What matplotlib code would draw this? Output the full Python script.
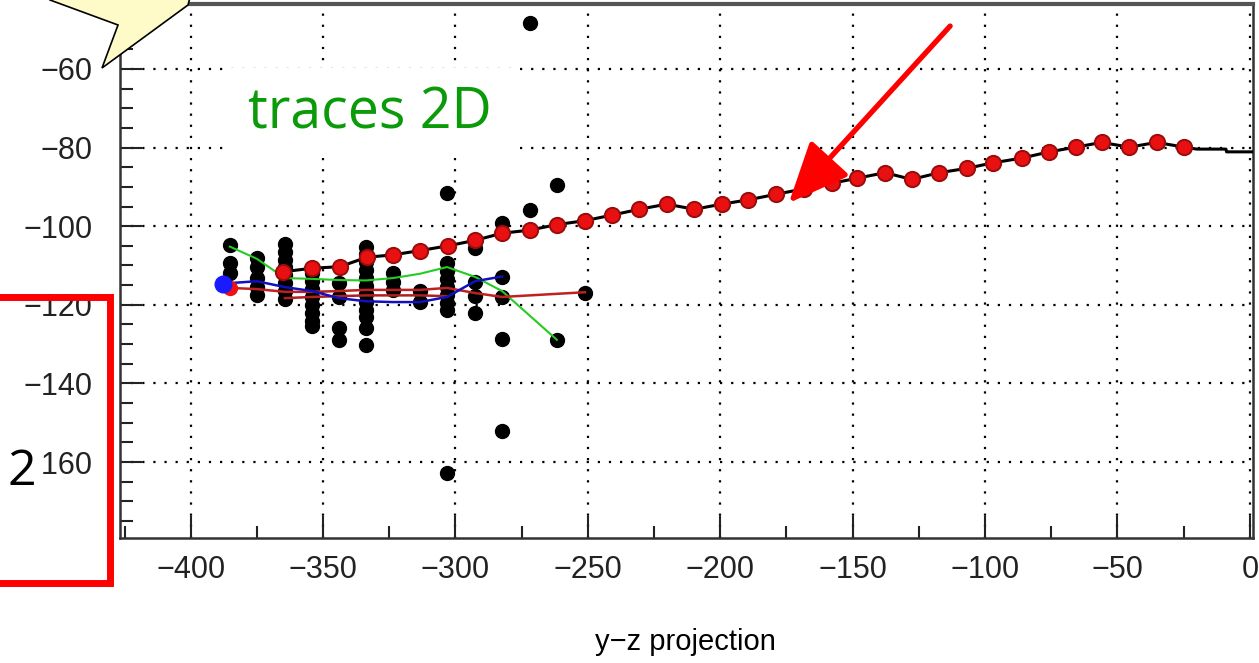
import matplotlib
matplotlib.use('Agg')
import matplotlib.pyplot as plt
from matplotlib.patches import Polygon, Rectangle
from matplotlib.ticker import MultipleLocator

plt.rcParams['font.family'] = ['Liberation Sans Narrow', 'Liberation Sans', 'DejaVu Sans']

# couches (colonnes de hits) et hits noirs
hit_cols = [-385.2, -375.0, -364.4, -354.2, -344.0, -333.8, -323.6,
            -313.4, -303.2, -292.6, -282.4, -271.9, -261.7, -251.1]
hit_ys = [
    [-104.8, -109.4, -112.0],
    [-108.2, -110.3, -113.2, -115.5, -117.5],
    [-104.5, -106.5, -108.5, -110.5, -112.5, -114.5, -116.5, -118.5],
    [-112.0, -114.0, -116.0, -118.0, -120.0, -122.0, -124.0, -125.5],
    [-114.5, -117.9, -125.9, -128.9],
    [-105.2, -107.2, -109.2, -111.2, -113.2, -115.2, -117.2, -119.2, -121.2, -123.2, -125.9, -130.2],
    [-112.0, -114.1, -116.2],
    [-116.6, -119.2],
    [-91.6, -109.4, -111.5, -113.5, -115.5, -117.5, -119.5, -121.3, -162.8],
    [-105.6, -114.1, -117.7, -122.1],
    [-99.3, -112.8, -117.9, -128.7, -152.2],
    [-48.4, -95.9],
    [-89.5, -128.9],
    [-116.9],
]

# trace principale (points rouges + ajustement noir)
track_x = [-365.1, -354.3, -343.6, -333.5, -323.6, -313.4, -302.8, -292.6, -282.4, -271.9,
           -261.7, -251.1, -241.0, -230.6, -220.2, -209.8, -199.5, -189.4, -179.0, -168.4,
           -157.9, -148.3, -137.8, -127.7, -117.3, -106.9, -97.1, -86.2, -75.8, -65.7,
           -56.0, -45.5, -35.2, -24.8]
track_y = [-111.6, -110.7, -110.3, -107.9, -107.3, -106.2, -105.0, -103.6, -101.8, -101.0,
           -99.6, -98.6, -97.2, -95.7, -94.4, -95.7, -94.4, -93.3, -91.9, -90.5,
           -89.1, -87.8, -86.4, -88.1, -86.4, -85.3, -83.9, -82.7, -81.1, -79.9,
           -78.7, -79.9, -78.7, -79.9]
fit_tail_x = [-20.0, -9.0, -8.8, 1.2]
fit_tail_y = [-80.4, -80.4, -81.1, -81.1]

# autres traces
green_x = [-385.2, -375.0, -364.4, -354.2, -344.0, -333.8, -323.6, -313.4, -303.2, -292.6, -282.4, -261.7]
green_y = [-105.2, -108.3, -113.2, -113.4, -113.7, -113.8, -113.2, -112.1, -110.4, -112.9, -116.5, -128.9]
blue_x = [-387.7, -375.0, -364.4, -354.2, -344.0, -333.8, -323.6, -313.4, -303.2, -292.6, -282.4]
blue_y = [-114.6, -114.0, -115.5, -116.5, -118.3, -119.1, -119.3, -119.3, -118.0, -114.0, -112.8]
redA_x = [-385.2, -375.0, -364.4, -354.2, -344.0, -333.8, -323.6, -313.4, -303.2, -292.6, -282.4, -251.1]
redA_y = [-115.7, -116.0, -116.7, -116.7, -116.5, -116.2, -116.2, -116.2, -115.7, -117.0, -118.0, -116.8]
redB_x = [-364.4, -354.2, -344.0, -333.8, -323.6, -313.4, -303.2]
redB_y = [-118.3, -118.0, -117.8, -117.6, -117.6, -117.6, -117.8]

W, H = 1259, 663


def px(x, y):
    # pixels image (origine en haut a gauche) -> fraction de figure
    return (x / W, 1 - y / H)


fig = plt.figure(figsize=(12.59, 6.63), dpi=100)
ax = fig.add_axes([120 / W, 1 - 538 / H, 1133 / W, 534 / H])

hx, hy = [], []
for c, ys in zip(hit_cols, hit_ys):
    for v in ys:
        hx.append(c)
        hy.append(v)
ax.plot(hx, hy, 'o', color='black', ms=10, zorder=3)

ax.plot(green_x, green_y, color='#22cc22', lw=1.5, zorder=4)
ax.plot(redB_x, redB_y, color='#b02020', lw=1.8, zorder=4)
ax.plot(redA_x, redA_y, color='#c02020', lw=1.8, zorder=4)
ax.plot(blue_x, blue_y, color='#1010c0', lw=1.8, zorder=4)
ax.plot(redA_x[:1], redA_y[:1], 'o', color='#ee1111', ms=10, zorder=5)
ax.plot(blue_x[:1], blue_y[:1], 'o', color='#1a1aff', ms=12, zorder=5)

ax.plot(track_x + fit_tail_x, track_y + fit_tail_y, color='black', lw=2.2, zorder=5)
ax.plot(track_x, track_y, 'o', color='#e81010', mec='#9a0c0c', mew=1.4, ms=11, zorder=6)

ax.set_xlim(-426.7, 1.2)
ax.set_ylim(-179.3, -43.5)
ax.xaxis.set_major_locator(MultipleLocator(50))
ax.xaxis.set_minor_locator(MultipleLocator(25))
ax.yaxis.set_major_locator(MultipleLocator(20))
ax.yaxis.set_minor_locator(MultipleLocator(5))
ax.tick_params(which='both', direction='in', top=False, right=False, width=1.5, colors='#222222')
ax.tick_params(which='major', length=16, labelsize=22)
ax.tick_params(which='minor', length=9)
ax.tick_params(axis='y', pad=20)
ax.tick_params(axis='x', pad=12)
for s in ax.spines.values():
    s.set_linewidth(1.8)
    s.set_color('#333333')
ax.spines['top'].set_linewidth(3)
ax.spines['top'].set_color('#555555')
ax.grid(True, which='major', color='black', lw=1.6, linestyle=(0, (1, 4)))
ax.set_axisbelow(True)

fig.text(685 / W, 1 - 642 / H, 'y\u2212z projection', ha='center', va='center', fontsize=21)

# encadre blanc du texte "traces 2D"
fig.patches.append(Rectangle(px(225, 152), 290 / W, 84 / H, transform=fig.transFigure,
                             facecolor='white', edgecolor='none', zorder=10))
fig.text(370 / W, 1 - 114 / H, 'traces 2D', color='#0a9a0a', fontsize=40,
         family=['Open Sans', 'DejaVu Sans'], ha='center', va='center', zorder=11)

# bulle jaune
bulle = [px(40, -10), px(50, 0), px(118, 25), px(102, 68), px(188, 5), px(192, -10)]
fig.patches.append(Polygon(bulle, closed=True, transform=fig.transFigure,
                           facecolor='#fffbc8', edgecolor='black', lw=1.2, zorder=12))

# cadre rouge, et le "2" qui masque le signe moins de -160
fig.patches.append(Rectangle(px(-20, 583), 130 / W, 286 / H, transform=fig.transFigure,
                             facecolor='none', edgecolor='#ff0000', lw=5, zorder=12))
fig.patches.append(Rectangle(px(4, 490), 37 / W, 42 / H, transform=fig.transFigure,
                             facecolor='white', edgecolor='none', zorder=12))
fig.text(22 / W, 1 - 472 / H, '2', color='black', fontsize=36, family=['Open Sans', 'DejaVu Sans'],
         ha='center', va='center', zorder=13)

# fleche rouge
ax.annotate('', xy=(787, H - 205), xycoords='figure pixels',
            xytext=(952, H - 24), textcoords='figure pixels',
            arrowprops=dict(arrowstyle='-|>,head_length=1.5,head_width=0.65',
                            color='#ff0000', lw=3.8, mutation_scale=25),
            zorder=14, annotation_clip=False)

plt.savefig('out.png', dpi=100)
